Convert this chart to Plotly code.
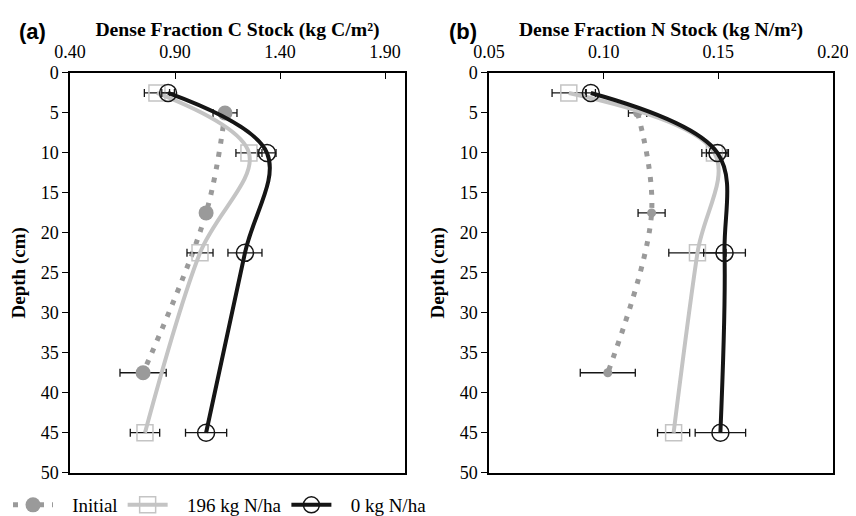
import plotly.graph_objects as go

# ---- data ----
depth_init = [5, 17.5, 37.5]
depth_trt = [2.5, 10, 22.5, 45]

c_initial = [1.138, 1.048, 0.748]
c_initial_err = [0.057, 0.015, 0.11]
c_196 = [0.814, 1.252, 1.019, 0.757]
c_196_err = [0.06, 0.062, 0.062, 0.07]
c_0 = [0.867, 1.338, 1.233, 1.048]
c_0_err = [0.03, 0.043, 0.081, 0.098]

n_initial = [0.1148, 0.1209, 0.1018]
n_initial_err = [0.004, 0.0059, 0.012]
n_196 = [0.0848, 0.1483, 0.1409, 0.1305]
n_196_err = [0.0073, 0.0055, 0.0125, 0.007]
n_0 = [0.0944, 0.1496, 0.1527, 0.1509]
n_0_err = [0.002, 0.0048, 0.0091, 0.011]

series_names = ["Initial", "196 kg N/ha", "0 kg N/ha"]
c_ticks = [0.40, 0.90, 1.40, 1.90]
n_ticks = [0.05, 0.10, 0.15, 0.20]
depth_ticks = list(range(0, 55, 5))

W, H = 856, 516
SERIF = "Liberation Serif"
INIT_C = "#9a9a9a"
GRAY = "#c4c4c4"
BLACK = "#151515"
PAD = "\u00a0\u00a0\u00a0"

fig = go.Figure()


def add_panel(xa, ya, init, init_err, v196, e196, v0, e0, init_size, show):
    err = lambda arr: dict(type="data", array=arr, visible=True, color=BLACK,
                           thickness=1.3, width=4)
    fig.add_trace(go.Scatter(
        x=init, y=depth_init, xaxis=xa, yaxis=ya, name=PAD + series_names[0],
        mode="lines+markers", line=dict(color=INIT_C, width=5, dash="5px,8px", shape="spline"),
        marker=dict(symbol="circle", size=init_size, color=INIT_C),
        error_x=err(init_err), showlegend=show))
    fig.add_trace(go.Scatter(
        x=v196, y=depth_trt, xaxis=xa, yaxis=ya, name=PAD + series_names[1],
        mode="lines+markers", line=dict(color=GRAY, width=4, shape="spline"),
        marker=dict(symbol="square-open", size=16, color=GRAY, line=dict(width=1.5, color=GRAY)),
        error_x=err(e196), showlegend=show))
    fig.add_trace(go.Scatter(
        x=v0, y=depth_trt, xaxis=xa, yaxis=ya, name=PAD + series_names[2],
        mode="lines+markers", line=dict(color=BLACK, width=4, shape="spline"),
        marker=dict(symbol="circle-open", size=17, color=BLACK, line=dict(width=1.5, color=BLACK)),
        error_x=err(e0), showlegend=show))


add_panel("x", "y", c_initial, c_initial_err, c_196, c_196_err, c_0, c_0_err, 15, True)
add_panel("x2", "y2", n_initial, n_initial_err, n_196, n_196_err, n_0, n_0_err, 9, False)

ytop = 1 - 66 / H
ybot = 1 - 472 / H

xcommon = dict(side="top", showline=True, linecolor="black", linewidth=1.5, mirror=True,
               ticks="inside", ticklen=6, tickcolor="black", showgrid=False, zeroline=False,
               automargin=False,
               tickfont=dict(family=SERIF, size=18, color="black"), ticklabelstandoff=6,
               title_font=dict(family=SERIF, size=19.7, color="black"), title_standoff=0)
ycommon = dict(autorange=False, showline=True, linecolor="black", linewidth=1.5, mirror=True,
               ticks="outside", ticklen=6, tickcolor="black", showgrid=False, zeroline=False,
               automargin=False,
               tickvals=depth_ticks, tickfont=dict(family=SERIF, size=18, color="black"),
               title_font=dict(family=SERIF, size=19, color="black"), title_standoff=10)

fig.update_layout(
    width=W, height=H, margin=dict(l=0, r=0, t=0, b=0),
    font=dict(family=SERIF, size=18, color="black"),
    plot_bgcolor="white", paper_bgcolor="white",
    xaxis=dict(domain=[62 / W, 397 / W], anchor="y", range=[0.40, 1.995],
               tickvals=c_ticks, ticktext=[f"{v:.2f}" for v in c_ticks],
               title_text="<b>Dense Fraction C Stock (kg C/m²)</b>", **xcommon),
    yaxis=dict(domain=[ybot, ytop], anchor="x", range=[50, 0],
               title_text="<b>Depth (cm)</b>", **ycommon),
    xaxis2=dict(domain=[481 / W, 825 / W], anchor="y2", range=[0.05, 0.20],
                tickvals=n_ticks, ticktext=[f"{v:.2f}" for v in n_ticks],
                title_text="<b>Dense Fraction N Stock (kg N/m²)</b>", **xcommon),
    yaxis2=dict(domain=[ybot, ytop], anchor="x2", range=[50, 0],
                title_text="<b>Depth (cm)</b>", **ycommon),
    legend=dict(orientation="h", x=0.0, y=1 - 505 / H, xanchor="left", yanchor="middle",
                font=dict(family=SERIF, size=19, color="black"), itemwidth=40,
                bgcolor="rgba(0,0,0,0)"),
    showlegend=True,
    annotations=[
        dict(text="<b>(a)</b>", x=9 / W, y=1 - 24 / H, xref="paper", yref="paper",
             xanchor="left", yanchor="middle", showarrow=False,
             font=dict(family="Liberation Sans", size=22, color="black")),
        dict(text="<b>(b)</b>", x=439 / W, y=1 - 24 / H, xref="paper", yref="paper",
             xanchor="left", yanchor="middle", showarrow=False,
             font=dict(family="Liberation Sans", size=22, color="black")),
    ],
)

fig.write_html("out.html")
